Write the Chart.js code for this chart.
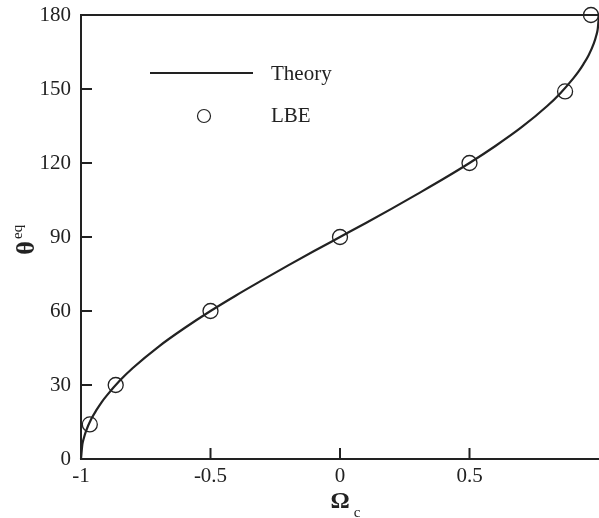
<!DOCTYPE html>
<html>
<head>
<meta charset="utf-8">
<script src="https://cdn.jsdelivr.net/npm/chart.js@4.4.1/dist/chart.umd.min.js"></script>
<style>
  html, body { margin: 0; padding: 0; background: #fff; }
  #wrap { width: 599px; height: 518px; }
</style>
</head>
<body>
<div id="wrap"><canvas id="myChart" width="599" height="518"></canvas></div>
<script>
// theory curve
const theoryOmega = [-1, -0.995, -0.99, -0.98, -0.96, -0.94, -0.92, -0.9, -0.85, -0.8, -0.7, -0.6, -0.5, -0.4, -0.3, -0.2, -0.1, 0, 0.1, 0.2, 0.3, 0.4, 0.5, 0.6, 0.7, 0.8, 0.85, 0.9, 0.92, 0.94, 0.96, 0.98, 0.99, 0.995, 1];
const theoryTheta = [0, 5.7, 8.1, 11.5, 16.3, 19.9, 23.1, 25.8, 31.8, 36.9, 45.6, 53.1, 60, 66.4, 72.5, 78.5, 84.3, 90, 95.7, 101.5, 107.5, 113.6, 120, 126.9, 134.4, 143.1, 148.2, 154.2, 156.9, 160.1, 163.7, 168.5, 171.9, 174.3, 180];

// LBE simulation points
const lbeOmega = [-0.966, -0.866, -0.5, 0, 0.5, 0.869, 0.969];
const lbeTheta = [14, 30, 60, 90, 120, 149, 180];

const xTicks = [-1, -0.5, 0, 0.5];
const legendLabels = ['Theory', 'LBE'];

const ink = '#222';
const serif = "'Liberation Serif', 'DejaVu Serif', serif";

const toPts = (xs, ys) => xs.map((x, i) => ({ x: x, y: ys[i] }));

// top border, inward ticks, axis titles, legend
const decor = {
  id: 'decor',
  afterDraw(chart) {
    const { ctx, chartArea: a, scales } = chart;
    ctx.save();
    ctx.strokeStyle = ink;
    ctx.lineWidth = 2;
    ctx.beginPath();
    ctx.moveTo(a.left, a.top);
    ctx.lineTo(a.right, a.top);
    ctx.stroke();

    // inward tick marks
    ctx.beginPath();
    for (const v of xTicks) {
      const px = scales.x.getPixelForValue(v);
      ctx.moveTo(px, a.bottom);
      ctx.lineTo(px, a.bottom - 11);
    }
    for (const t of scales.y.ticks) {
      const py = scales.y.getPixelForValue(t.value);
      ctx.moveTo(a.left, py);
      ctx.lineTo(a.left + 11, py);
    }
    ctx.stroke();

    // x title: Omega_c
    ctx.fillStyle = ink;
    ctx.textBaseline = 'alphabetic';
    ctx.textAlign = 'center';
    ctx.font = 'bold 24px ' + serif;
    const cx = scales.x.getPixelForValue(0);
    ctx.fillText('Ω', cx, 508);
    ctx.font = '15px ' + serif;
    ctx.fillText('c', cx + 17, 517);

    // y title: theta^eq
    ctx.translate(34, 248);
    ctx.rotate(-Math.PI / 2);
    ctx.font = 'bold 26px ' + serif;
    ctx.textAlign = 'center';
    ctx.fillText('θ', 0, 0);
    ctx.font = '15px ' + serif;
    ctx.textAlign = 'left';
    ctx.fillText('eq', 9, -12);
    ctx.setTransform(1, 0, 0, 1, 0, 0);

    // legend
    ctx.lineWidth = 2;
    ctx.beginPath();
    ctx.moveTo(150, 73);
    ctx.lineTo(253, 73);
    ctx.stroke();
    ctx.lineWidth = 1.2;
    ctx.beginPath();
    ctx.arc(204, 116, 6.5, 0, Math.PI * 2);
    ctx.stroke();
    ctx.font = '21px ' + serif;
    ctx.textAlign = 'left';
    ctx.textBaseline = 'middle';
    ctx.fillText(legendLabels[0], 271, 74);
    ctx.fillText(legendLabels[1], 271, 116);
    ctx.restore();
  }
};

const ctx = document.getElementById('myChart');
new Chart(ctx, {
  type: 'scatter',
  data: {
    datasets: [
      {
        label: legendLabels[0],
        data: toPts(theoryOmega, theoryTheta),
        showLine: true,
        borderColor: ink,
        borderWidth: 2.2,
        pointRadius: 0,
        cubicInterpolationMode: 'monotone',
        clip: false,
      },
      {
        label: legendLabels[1],
        data: toPts(lbeOmega, lbeTheta),
        showLine: false,
        borderColor: ink,
        backgroundColor: 'rgba(0,0,0,0)',
        borderWidth: 1.3,
        pointRadius: 7.5,
        pointStyle: 'circle',
        clip: false,
      },
    ],
  },
  options: {
    responsive: false,
    animation: false,
    layout: { autoPadding: false, padding: { top: 15, right: 0, left: 0, bottom: 0 } },
    plugins: { legend: { display: false }, tooltip: { enabled: false } },
    scales: {
      x: {
        type: 'linear',
        min: -1,
        max: 1,
        afterFit: (s) => {
          s.height = 59;
          s.paddingLeft = 0;
          s.paddingRight = 0;
        },
        afterBuildTicks: (s) => { s.ticks = xTicks.map((v) => ({ value: v })); },
        grid: { display: false, drawTicks: false },
        border: { display: true, color: ink, width: 2 },
        ticks: {
          padding: 5,
          color: ink,
          font: { family: serif, size: 21 },
          maxRotation: 0,
          callback: (v) => String(v),
        },
      },
      y: {
        min: 0,
        max: 180,
        afterFit: (s) => {
          s.width = 81;
          s.paddingTop = 0;
          s.paddingBottom = 0;
        },
        grid: { display: false, drawTicks: false },
        border: { display: true, color: ink, width: 2 },
        ticks: {
          stepSize: 30,
          padding: 10,
          color: ink,
          font: { family: serif, size: 21 },
        },
      },
    },
  },
  plugins: [decor],
});
</script>
</body>
</html>
